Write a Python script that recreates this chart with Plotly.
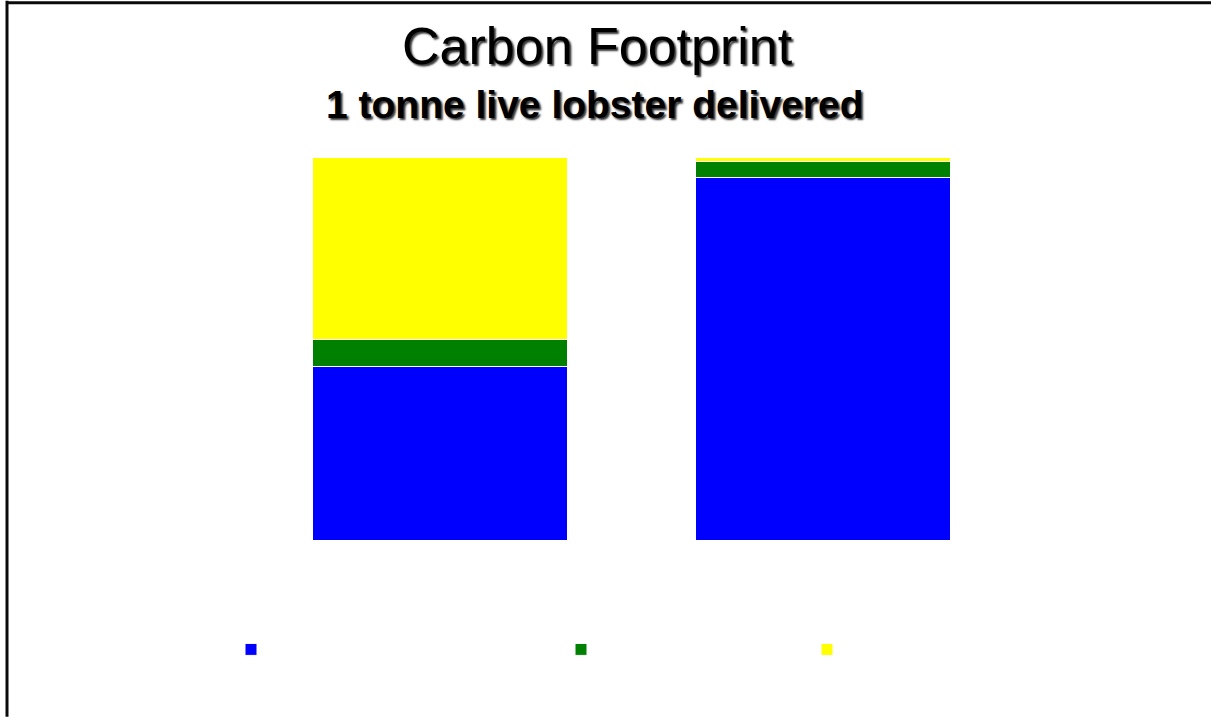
import plotly.graph_objects as go

# Two delivery scenarios, each stacked to 100 %
categories = ["Scenario 1", "Scenario 2"]
blue_share = [45.4, 94.6]
green_share = [6.9, 4.2]
yellow_share = [47.7, 1.2]

series_colors = ["#0000FF", "#008000", "#FFFF00"]
series_values = [blue_share, green_share, yellow_share]

W, H = 1211, 717
M_L, M_R, M_T, M_B = 248, 196, 156.5, 177
PW = W - M_L - M_R
PH = H - M_T - M_B


def px_x(x):
    return (x - M_L) / PW


def px_y(y):
    return (H - M_B - y) / PH


fig = go.Figure()
legend_x = [251, 581, 827]
for i, (vals, col) in enumerate(zip(series_values, series_colors)):
    lg = "legend" if i == 0 else f"legend{i + 1}"
    fig.add_trace(go.Bar(
        x=categories, y=vals, name="",
        marker=dict(color=col, line=dict(color="white", width=1)),
        legend=lg, showlegend=True, hoverinfo="y",
    ))

legend_common = dict(
    orientation="h", xref="container", yref="container",
    xanchor="left", yanchor="middle", bgcolor="rgba(0,0,0,0)",
    font=dict(size=16, color="black"), itemwidth=30,
)
layout_legends = {}
for i, lx in enumerate(legend_x):
    key = "legend" if i == 0 else f"legend{i + 1}"
    layout_legends[key] = dict(legend_common, x=(lx - 20) / W, y=1 - 649.5 / H)

shadow = "2px 2px 2px #333"
fig.update_layout(
    width=W, height=H,
    margin=dict(l=M_L, r=M_R, t=M_T, b=M_B),
    paper_bgcolor="white", plot_bgcolor="white",
    barmode="stack", bargap=0.335,
    xaxis=dict(showticklabels=False, showgrid=False, zeroline=False,
               showline=False, ticks="", range=[-0.5, 1.5]),
    yaxis=dict(showticklabels=False, showgrid=False, zeroline=False,
               showline=False, ticks="", range=[0, 100]),
    annotations=[
        dict(text="Carbon Footprint", xref="paper", yref="paper",
             x=px_x(597), y=px_y(45), xanchor="center", yanchor="middle",
             showarrow=False,
             font=dict(family="Liberation Sans, Arial", size=52,
                       color="black", shadow=shadow)),
        dict(text="<b>1 tonne live lobster delivered</b>", xref="paper",
             yref="paper", x=px_x(595), y=px_y(104), xanchor="center",
             yanchor="middle", showarrow=False,
             font=dict(family="Liberation Sans, Arial", size=39,
                       color="black", shadow=shadow)),
    ],
    shapes=[
        dict(type="line", xref="paper", yref="paper",
             x0=px_x(7), x1=px_x(7), y0=px_y(0), y1=px_y(H),
             line=dict(color="#0a0a0a", width=3)),
        dict(type="line", xref="paper", yref="paper",
             x0=px_x(6), x1=px_x(W), y0=px_y(2), y1=px_y(2),
             line=dict(color="#0a0a0a", width=3)),
    ],
    **layout_legends,
)

fig.write_html("out.html")
